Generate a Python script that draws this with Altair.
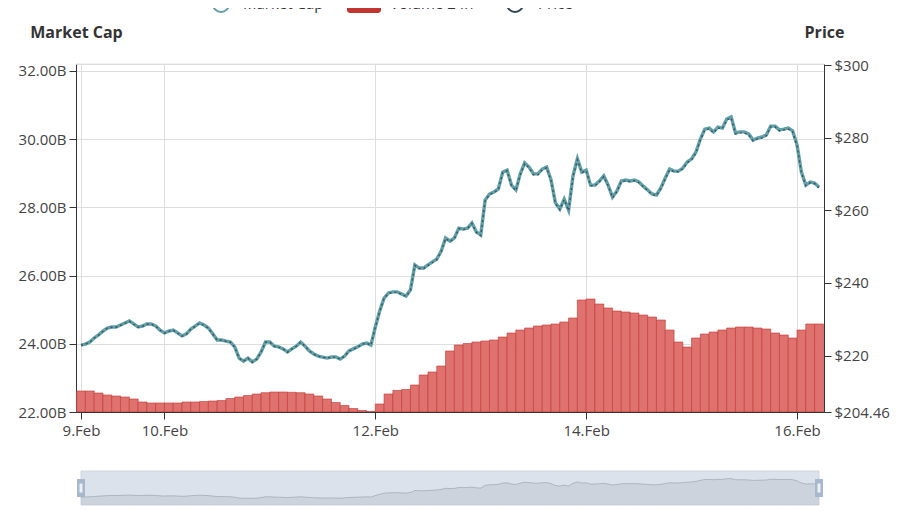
import altair as alt
import pandas as pd

# ---- data ----
# lines: hourly from 9 Feb 05:00 to 16 Feb 05:00
line_times = pd.date_range("2021-02-09 05:00", periods=169, freq="1h")

market_cap_b = [
    23.96, 23.99, 24.05, 24.17, 24.26, 24.37, 24.46, 24.49, 24.49, 24.55,
    24.61, 24.67, 24.58, 24.49, 24.52, 24.58, 24.58, 24.52, 24.40, 24.32,
    24.37, 24.40, 24.32, 24.23, 24.29, 24.43, 24.52, 24.61, 24.55, 24.46,
    24.29, 24.11, 24.11, 24.08, 24.05, 23.91, 23.58, 23.49, 23.58, 23.47,
    23.55, 23.76, 24.05, 24.05, 23.93, 23.91, 23.85, 23.76, 23.85, 23.93,
    24.05, 23.93, 23.79, 23.70, 23.64, 23.61, 23.58, 23.61, 23.61, 23.55,
    23.64, 23.79, 23.85, 23.91, 23.99, 24.02, 23.96, 24.49, 24.96, 25.34,
    25.49, 25.52, 25.52, 25.46, 25.40, 25.58, 26.31, 26.22, 26.22, 26.31,
    26.40, 26.48, 26.72, 27.10, 27.01, 27.10, 27.39, 27.36, 27.39, 27.54,
    27.28, 27.19, 28.21, 28.39, 28.45, 28.54, 29.03, 29.09, 28.65, 28.51,
    28.98, 29.30, 29.18, 28.98, 28.98, 29.12, 29.18, 28.80, 28.13, 27.95,
    28.24, 27.92, 28.92, 29.42, 29.03, 29.09, 28.65, 28.65, 28.77, 28.92,
    28.65, 28.30, 28.48, 28.77, 28.80, 28.77, 28.80, 28.74, 28.62, 28.51,
    28.39, 28.36, 28.57, 28.86, 29.12, 29.06, 29.06, 29.15, 29.33, 29.42,
    29.62, 30.00, 30.29, 30.32, 30.21, 30.35, 30.32, 30.59, 30.65, 30.18,
    30.21, 30.21, 30.15, 29.97, 30.03, 30.06, 30.12, 30.38, 30.38, 30.27,
    30.29, 30.32, 30.24, 29.83, 29.03, 28.65, 28.74, 28.71, 28.59]

price_usd = [
    222.85, 223.13, 223.68, 224.78, 225.60, 226.70, 227.52, 227.80, 227.80, 228.34,
    228.89, 229.44, 228.62, 227.80, 228.07, 228.62, 228.62, 228.07, 226.97, 226.15,
    226.70, 226.97, 226.15, 225.33, 225.87, 227.25, 228.07, 228.89, 228.34, 227.52,
    225.87, 224.23, 224.23, 223.95, 223.68, 222.31, 219.29, 218.46, 219.29, 218.19,
    219.01, 220.93, 223.68, 223.68, 222.58, 222.31, 221.76, 220.93, 221.76, 222.58,
    223.68, 222.58, 221.21, 220.38, 219.83, 219.56, 219.29, 219.56, 219.56, 219.01,
    219.83, 221.21, 221.76, 222.31, 223.13, 223.40, 222.85, 227.80, 232.19, 235.76,
    237.13, 237.40, 237.40, 236.86, 236.31, 237.95, 244.82, 243.99, 243.99, 244.82,
    245.64, 246.46, 248.66, 252.23, 251.41, 252.23, 254.98, 254.70, 254.98, 256.35,
    253.88, 253.05, 262.66, 264.31, 264.86, 265.68, 270.35, 270.90, 266.78, 265.41,
    269.80, 272.82, 271.72, 269.80, 269.80, 271.17, 271.72, 268.15, 261.84, 260.19,
    262.94, 259.92, 269.25, 273.92, 270.35, 270.90, 266.78, 266.78, 267.88, 269.25,
    266.78, 263.49, 265.13, 267.88, 268.15, 267.88, 268.15, 267.60, 266.51, 265.41,
    264.31, 264.04, 265.96, 268.70, 271.17, 270.62, 270.62, 271.45, 273.10, 273.92,
    275.84, 279.41, 282.15, 282.43, 281.33, 282.70, 282.43, 284.90, 285.45, 281.06,
    281.33, 281.33, 280.78, 279.13, 279.68, 279.96, 280.51, 282.98, 282.98, 281.88,
    282.15, 282.43, 281.61, 277.76, 270.35, 266.78, 267.60, 267.33, 266.23]

# volume bars: every 2 hours
bar_times = pd.date_range("2021-02-09 05:00", periods=85, freq="2h")
volume_24h_b = [0.63, 0.63, 0.57, 0.51, 0.48, 0.45, 0.39, 0.30, 0.27, 0.27,
                0.27, 0.27, 0.30, 0.30, 0.315, 0.33, 0.345, 0.405, 0.45, 0.495,
                0.54, 0.579, 0.60, 0.60, 0.591, 0.579, 0.54, 0.48, 0.39, 0.285,
                0.195, 0.105, 0.045, 0.015, 0.24, 0.54, 0.645, 0.675, 0.81, 1.11,
                1.20, 1.38, 1.83, 2.01, 2.055, 2.10, 2.13, 2.16, 2.25, 2.37,
                2.46, 2.52, 2.58, 2.61, 2.64, 2.70, 2.82, 3.36, 3.39, 3.24,
                3.12, 3.03, 3.00, 2.97, 2.91, 2.85, 2.76, 2.46, 2.10, 1.95,
                2.22, 2.34, 2.40, 2.46, 2.52, 2.55, 2.55, 2.52, 2.49, 2.37,
                2.31, 2.22, 2.46, 2.64, 2.64]

left_ticks = [22, 24, 26, 28, 30, 32]
right_ticks = [204.46, 220, 240, 260, 280, 300]
legend_labels = ["Market Cap", "Volume 24h", "Price"]

df = pd.DataFrame({"time": line_times, "market_cap": market_cap_b, "price": price_usd})
dfv = pd.DataFrame({"time": bar_times, "volume": volume_24h_b})
ends = df.iloc[[0, -1]]
one = pd.DataFrame({"k": [0]})

FONT = "Open Sans"
AX = "#333333"
GRID = "#dedede"
TEAL = "#61a0a8"
NAVY = "#2f4554"
RED = "#c23531"

x_start = alt.DateTime(year=2021, month=2, date=9, hours=5)
x_end = alt.DateTime(year=2021, month=2, date=16, hours=5)
x_ticks = [x_start] + [alt.DateTime(year=2021, month=2, date=d) for d in (10, 12, 14, 16)]
x_scale = alt.Scale(domain=[x_start, x_end])

x_axis = alt.Axis(values=x_ticks, format="%-d.%b", title=None, grid=True, gridColor=GRID,
                  domainColor=AX, tickColor=AX, tickSize=7, labelPadding=4,
                  labelFontSize=15, labelFont=FONT, labelColor="#444", labelFlush=False,
                  labelOverlap=False)
x_enc = alt.X("time:T", scale=x_scale, axis=x_axis)

slider_scale = alt.Scale(domain=[21.06, 33.37], range=[441, 407], nice=False, zero=False)

top_line = alt.Chart(one).mark_rule(color=GRID, strokeWidth=1).encode(
    x=alt.value(0), x2=alt.value(748), y=alt.value(0))

bars = alt.Chart(dfv).mark_bar(size=8.9, clip=True, fill="#df716e", stroke=RED,
                               strokeWidth=0.8, strokeOpacity=0.75).encode(
    x=x_enc,
    y=alt.Y("volume:Q", scale=alt.Scale(domain=[0, 10.44], nice=False), axis=None))

mc_line = alt.Chart(df).mark_line(color=TEAL, strokeWidth=3.4).encode(
    x=x_enc,
    y=alt.Y("market_cap:Q",
            scale=alt.Scale(domain=[22, 32.2], nice=False, zero=False),
            axis=alt.Axis(orient="left", values=left_ticks,
                          labelExpr="format(datum.value, '.2f') + 'B'",
                          title="Market Cap", titleAngle=0, titleX=0, titleY=-27,
                          titleAlign="center", titleBaseline="alphabetic",
                          titleFontSize=16, titleFontWeight="bold", titleFont=FONT,
                          titleColor=AX, grid=True, gridColor=GRID, domainColor=AX,
                          tickColor=AX, tickSize=7, labelPadding=3, labelFontSize=15,
                          labelFont=FONT, labelColor="#444")))

price_line = alt.Chart(df).mark_line(color=NAVY, strokeWidth=1.4, strokeDash=[2, 3],
                                     opacity=0.85).encode(
    x=x_enc,
    y=alt.Y("price:Q",
            scale=alt.Scale(domain=[204.46, 300.3], nice=False, zero=False),
            axis=alt.Axis(orient="right", values=right_ticks, format="$.2~f",
                          title="Price", titleAngle=0, titleX=0, titleY=-27,
                          titleAlign="center", titleBaseline="alphabetic",
                          titleFontSize=16, titleFontWeight="bold", titleFont=FONT,
                          titleColor=AX, grid=False, domainColor=AX, tickColor=AX,
                          tickSize=7, labelPadding=3, labelFontSize=15, labelFont=FONT,
                          labelColor="#444")))

# ---- data-zoom slider below the axis ----
slider_bg = alt.Chart(df).mark_area(fill="#a7b7cc", fillOpacity=0.4, stroke="#cfd5de",
                                    strokeWidth=1).encode(
    x=x_enc,
    y=alt.YDatum(33.37, type="quantitative", scale=slider_scale, axis=None),
    y2=alt.Y2Datum(21.06))

slider_shadow = alt.Chart(df).mark_area(fill=NAVY, fillOpacity=0.09, line=False).encode(
    x=x_enc,
    y=alt.Y("market_cap:Q", scale=slider_scale, axis=None),
    y2=alt.Y2Datum(21.06))

slider_line = alt.Chart(df).mark_line(color=NAVY, strokeWidth=0.8, opacity=0.3).encode(
    x=x_enc,
    y=alt.Y("market_cap:Q", scale=slider_scale, axis=None))

handles = alt.Chart(ends).mark_tick(orient="vertical", color="#a7b7cc", size=18,
                                    thickness=8, opacity=1).encode(
    x=x_enc,
    y=alt.YDatum(27.2, type="quantitative", scale=slider_scale, axis=None))

handle_marks = alt.Chart(ends).mark_tick(orient="vertical", color="#ffffff", size=9,
                                         thickness=3, opacity=0.8).encode(
    x=x_enc,
    y=alt.YDatum(27.2, type="quantitative", scale=slider_scale, axis=None))

# ---- legend at the top (cut by the page edge, as in the reference) ----
leg_y = -60
leg_mc = alt.Chart(one).mark_point(shape="circle", filled=False, size=256, strokeWidth=2,
                                   color=TEAL, opacity=1).encode(
    x=alt.value(145), y=alt.value(leg_y))
leg_mc_t = alt.Chart(one).mark_text(text=legend_labels[0], align="left",
                                    baseline="middle", font=FONT, fontSize=15,
                                    color=AX).encode(x=alt.value(167), y=alt.value(leg_y))
leg_vol = alt.Chart(one).mark_rect(color=RED, cornerRadius=3).encode(
    x=alt.value(271), x2=alt.value(305), y=alt.value(leg_y - 9), y2=alt.value(leg_y + 9))
leg_vol_t = alt.Chart(one).mark_text(text=legend_labels[1], align="left",
                                     baseline="middle", font=FONT, fontSize=15,
                                     color=AX).encode(x=alt.value(314), y=alt.value(leg_y))
leg_pr = alt.Chart(one).mark_point(shape="circle", filled=False, size=256, strokeWidth=2,
                                   color=NAVY, opacity=1).encode(
    x=alt.value(439), y=alt.value(leg_y))
leg_pr_t = alt.Chart(one).mark_text(text=legend_labels[2], align="left",
                                    baseline="middle", font=FONT, fontSize=15,
                                    color=AX).encode(x=alt.value(462), y=alt.value(leg_y))

chart = alt.layer(
    top_line, bars, mc_line, price_line,
    slider_bg, slider_shadow, slider_line, handles, handle_marks,
    leg_mc, leg_mc_t, leg_vol, leg_vol_t, leg_pr, leg_pr_t,
).resolve_scale(y="independent").properties(
    width=748, height=348,
    autosize=alt.AutoSizeParams(type="none"),
    padding={"left": 68, "top": 56, "right": 82, "bottom": 94},
).configure_view(stroke=None).configure(background="white")

chart.save("out.html", embed_options={"renderer": "svg", "actions": False})
